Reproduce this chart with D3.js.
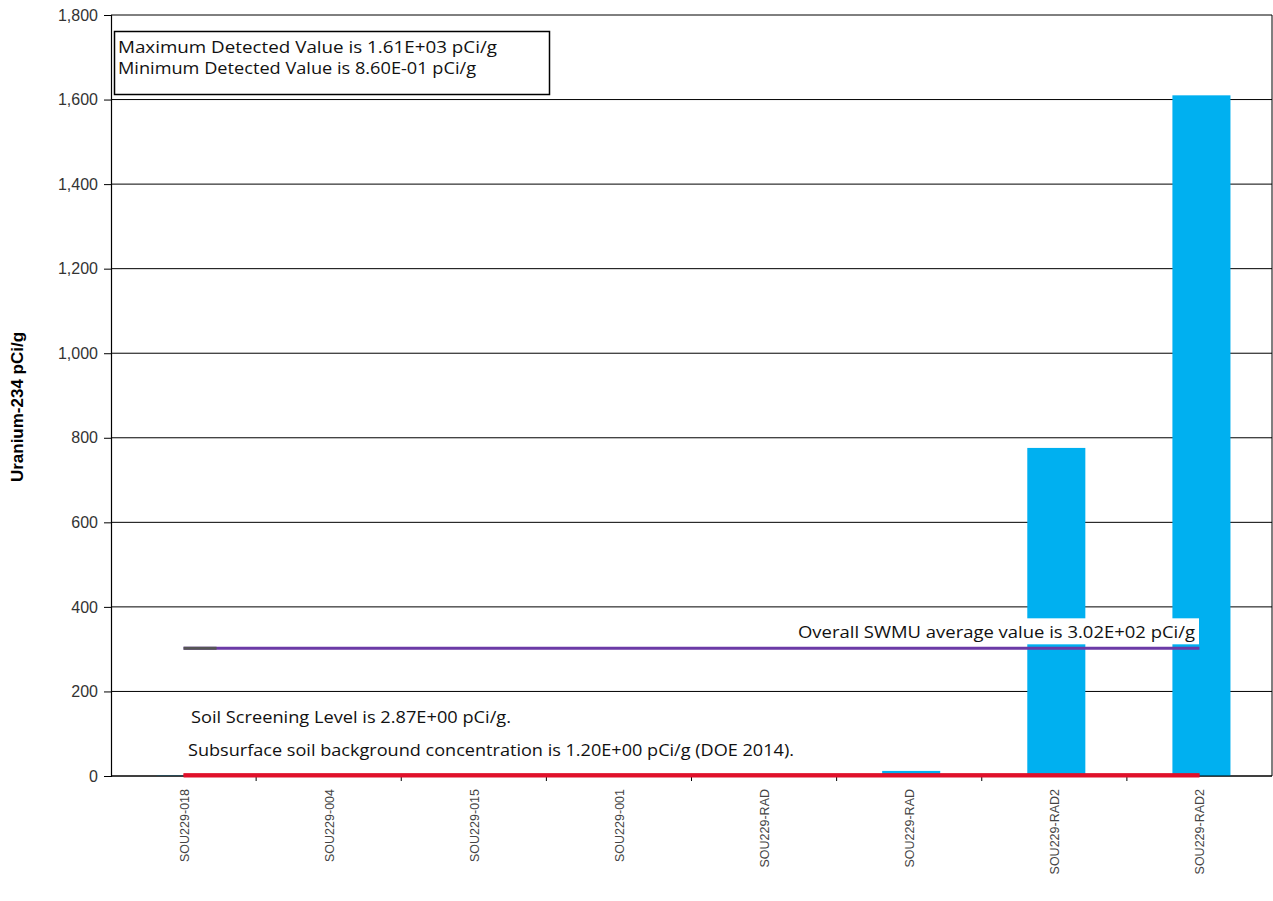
<!DOCTYPE html>
<html>
<head>
<meta charset="utf-8">
<script src="https://cdn.jsdelivr.net/npm/d3@7"></script>
<style>
  body { margin: 0; background: #fff; }
  svg { display: block; }
</style>
</head>
<body>
<svg width="1273" height="901"></svg>
<script>
// sample locations (left to right) and their results, pCi/g
var locations = ["SOU229-018", "SOU229-004", "SOU229-015", "SOU229-001",
                 "SOU229-RAD", "SOU229-RAD", "SOU229-RAD2", "SOU229-RAD2"];
var results = [0.86, 1.5, 1.2, 2.0, 3.5, 12, 776, 1610];

var yTicks = [0, 200, 400, 600, 800, 1000, 1200, 1400, 1600, 1800];

var averageValue = 302;
var screeningLevel = 2.87;
var backgroundLevel = 1.2;

var infoLines = ["Maximum Detected Value is 1.61E+03 pCi/g",
                 "Minimum Detected Value is 8.60E-01 pCi/g"];
var averageLabel = "Overall SWMU average value is 3.02E+02 pCi/g";
var screeningLabel = "Soil Screening Level is 2.87E+00 pCi/g.";
var backgroundLabel = "Subsurface soil background concentration is 1.20E+00 pCi/g (DOE 2014).";

var svg = d3.select("svg");
var margin = {left: 111, right: 1272, top: 15, bottom: 776};

var x = d3.scaleBand()
    .domain(d3.range(locations.length))
    .range([margin.left + 2, margin.right + 2])
    .paddingInner(0.6)
    .paddingOuter(0.3);

// band without padding, for ticks between categories
var xCell = d3.scaleBand()
    .domain(d3.range(locations.length))
    .range([margin.left, margin.right]);

var y = d3.scaleLinear()
    .domain([0, 1800])
    .range([margin.bottom, margin.top]);

function cx(i) { return xCell(i) + xCell.bandwidth() / 2; }

// gridlines
svg.append("g")
  .selectAll("line")
  .data(yTicks)
  .enter().append("line")
    .attr("x1", margin.left)
    .attr("x2", margin.right)
    .attr("y1", function(d) { return y(d); })
    .attr("y2", function(d) { return y(d); })
    .style("stroke", "#000")
    .style("stroke-width", "1px");

// right border
svg.append("line")
    .attr("x1", margin.right).attr("x2", margin.right)
    .attr("y1", margin.top).attr("y2", margin.bottom)
    .style("stroke", "#000");

// bars
svg.append("g")
  .selectAll("rect")
  .data(results)
  .enter().append("rect")
    .attr("x", function(d, i) { return x(i); })
    .attr("width", x.bandwidth())
    .attr("y", function(d) { return y(d); })
    .attr("height", function(d) { return y(0) - y(d); })
    .style("fill", "#00b0f0");

// y axis
var yAxis = svg.append("g")
    .attr("transform", "translate(" + margin.left + ",0)")
    .call(d3.axisLeft(y).tickValues(yTicks).tickSize(7).tickPadding(6)
      .tickFormat(d3.format(",")));
yAxis.select(".domain").style("stroke", "#000").style("stroke-width", "1.2px");
yAxis.selectAll("text")
    .style("font-family", "'Liberation Sans', Arial, sans-serif")
    .style("font-size", "16px")
    .style("fill", "#333");

// x axis: ticks between categories
var xAxis = svg.append("g")
    .attr("transform", "translate(0," + margin.bottom + ")");
xAxis.append("line")
    .attr("x1", margin.left).attr("x2", margin.right)
    .style("stroke", "#000").style("stroke-width", "1.2px");
xAxis.selectAll("line.tick")
  .data(d3.range(1, locations.length))
  .enter().append("line")
    .attr("class", "tick")
    .attr("x1", function(d) { return xCell(d); })
    .attr("x2", function(d) { return xCell(d); })
    .attr("y1", 0).attr("y2", 5)
    .style("stroke", "#000");
xAxis.selectAll("text")
  .data(locations)
  .enter().append("text")
    .attr("transform", function(d, i) { return "translate(" + (cx(i) + 5) + ",13) rotate(-90)"; })
    .style("text-anchor", "end")
    .style("font-family", "'Liberation Sans', Arial, sans-serif")
    .style("font-size", "12.5px")
    .style("fill", "#444")
    .text(function(d) { return d; });

// y axis title
svg.append("text")
    .attr("transform", "translate(23,407) rotate(-90)")
    .style("text-anchor", "middle")
    .style("font-family", "'Liberation Sans', Arial, sans-serif")
    .style("font-weight", "bold")
    .style("font-size", "17px")
    .style("fill", "#000")
    .text("Uranium-234 pCi/g");

// reference lines
var first = 0, last = locations.length - 1;

svg.append("line")
    .attr("x1", cx(first)).attr("x2", cx(last))
    .attr("y1", y(backgroundLevel)).attr("y2", y(backgroundLevel))
    .style("stroke", "#e0102a").style("stroke-width", "4px");
svg.append("line")
    .attr("x1", cx(first)).attr("x2", cx(last))
    .attr("y1", y(screeningLevel)).attr("y2", y(screeningLevel))
    .style("stroke", "#e0102a").style("stroke-width", "3px");

svg.append("line")
    .attr("x1", cx(first)).attr("x2", cx(last))
    .attr("y1", y(averageValue)).attr("y2", y(averageValue))
    .style("stroke", "#6b3aa6").style("stroke-width", "3px");
svg.append("line")
    .attr("x1", cx(first)).attr("x2", cx(first) + 33)
    .attr("y1", y(averageValue)).attr("y2", y(averageValue))
    .style("stroke", "#555").style("stroke-width", "3px");

var labelFont = "'Open Sans', 'Noto Sans', sans-serif";

function label(sel, len) {
  return sel.attr("textLength", len)
    .attr("lengthAdjust", "spacingAndGlyphs")
    .style("font-family", labelFont)
    .style("font-size", "16.5px")
    .style("fill", "#111");
}

// average label with white background
svg.append("rect")
    .attr("x", 795).attr("y", y(averageValue) - 30)
    .attr("width", 404).attr("height", 26)
    .style("fill", "#fff");
label(svg.append("text")
    .attr("x", 798).attr("y", y(averageValue) - 10), 397)
    .text(averageLabel);

label(svg.append("text").attr("x", 191).attr("y", 723), 320)
    .text(screeningLabel);

label(svg.append("text").attr("x", 188).attr("y", 756), 606)
    .text(backgroundLabel);

// info box
svg.append("rect")
    .attr("x", 114.5).attr("y", 31.5)
    .attr("width", 435).attr("height", 63)
    .style("fill", "#fff")
    .style("stroke", "#000")
    .style("stroke-width", "1.5px");
svg.append("g")
  .selectAll("text")
  .data(infoLines)
  .enter().append("text")
    .attr("x", 118)
    .attr("y", function(d, i) { return 53 + i * 21; })
    .call(function(s) { label(s, 0); })
    .attr("textLength", function(d, i) { return i === 0 ? 379 : 358; })
    .text(function(d) { return d; });
</script>
</body>
</html>
